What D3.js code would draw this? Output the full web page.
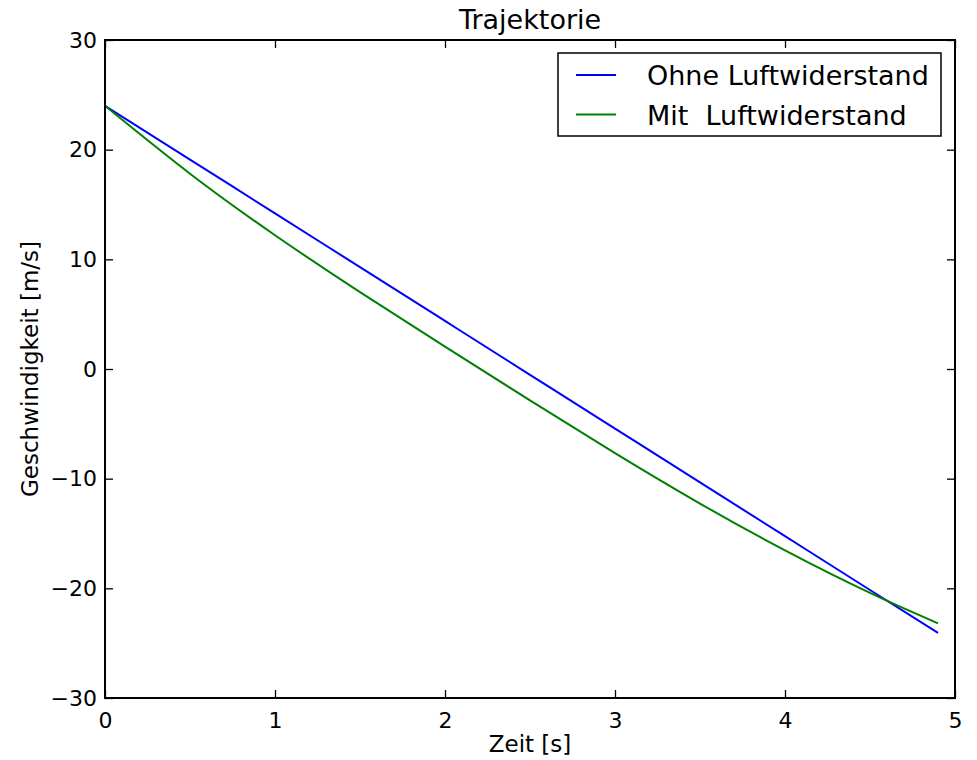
<!DOCTYPE html>
<html>
<head>
<meta charset="utf-8">
<script src="https://cdn.jsdelivr.net/npm/d3@7"></script>
<style>
  html, body { margin: 0; padding: 0; background: #fff; }
  svg { display: block; font-family: "DejaVu Sans", sans-serif; }
  text { fill: #000; }
</style>
</head>
<body>
<svg id="chart" width="977" height="760"></svg>
<script>
// ---- data ----
const title = "Trajektorie";
const xLabel = "Zeit [s]";
const yLabel = "Geschwindigkeit [m/s]";
const seriesNames = ["Ohne Luftwiderstand", "Mit  Luftwiderstand"];
const timeValues = [0, 0.5, 1.0, 1.5, 2.0, 2.5, 3.0, 3.5, 4.0, 4.5, 4.9];
const ohneValues = [24.0, 19.10, 14.19, 9.29, 4.38, -0.53, -5.43, -10.34, -15.24, -20.15, -24.07];
const mitValues  = [24.0, 17.81, 12.20, 7.01, 2.04, -2.86, -7.67, -12.27, -16.54, -20.42, -23.19];
const xTicks = [0, 1, 2, 3, 4, 5];
const yTicks = [-30, -20, -10, 0, 10, 20, 30];
const xDomain = [0, 5];
const yDomain = [-30, 30];
const colors = ["#0000ff", "#008000"];

// ---- layout ----
const svg = d3.select("#chart");
const L = 105, R = 955, T = 40, B = 698;
const x = d3.scaleLinear().domain(xDomain).range([L, R]);
const y = d3.scaleLinear().domain(yDomain).range([B, T]);
const tickLen = 8;
const tickFont = 22;

const fmt = d => d < 0 ? "\u2212" + Math.abs(d) : String(d);

// lines
const series = [ohneValues, mitValues];
const line = d3.line().x((d, i) => x(timeValues[i])).y(d => y(d)).curve(d3.curveNatural);
svg.append("clipPath").attr("id", "clip").append("rect")
  .attr("x", L).attr("y", T).attr("width", R - L).attr("height", B - T);
series.forEach((vals, k) => {
  svg.append("path")
    .datum(vals)
    .attr("d", line)
    .attr("fill", "none")
    .attr("stroke", colors[k])
    .attr("stroke-width", 2)
    .attr("clip-path", "url(#clip)");
});

// axes: bottom, left with inward ticks; top and right mirror ticks
const axBottom = d3.axisBottom(x).tickValues(xTicks).tickSizeInner(-tickLen).tickSizeOuter(0).tickPadding(14).tickFormat(fmt);
const axTop = d3.axisTop(x).tickValues(xTicks).tickSizeInner(-tickLen).tickSizeOuter(0).tickFormat("");
const axLeft = d3.axisLeft(y).tickValues(yTicks).tickSizeInner(-tickLen).tickSizeOuter(0).tickPadding(8).tickFormat(fmt);
const axRight = d3.axisRight(y).tickValues(yTicks).tickSizeInner(-tickLen).tickSizeOuter(0).tickFormat("");

function styleAxis(g) {
  g.select(".domain").remove();
  g.selectAll(".tick line").attr("stroke", "#000").attr("stroke-width", 1.3);
  g.selectAll(".tick text").attr("font-size", tickFont).attr("font-family", "DejaVu Sans").attr("fill", "#000");
}
svg.append("g").attr("transform", `translate(0,${B})`).call(axBottom).call(styleAxis);
svg.append("g").attr("transform", `translate(0,${T})`).call(axTop).call(styleAxis);
svg.append("g").attr("transform", `translate(${L},0)`).call(axLeft).call(styleAxis);
svg.append("g").attr("transform", `translate(${R},0)`).call(axRight).call(styleAxis);

// frame
svg.append("rect").attr("x", L).attr("y", T).attr("width", R - L).attr("height", B - T)
  .attr("fill", "none").attr("stroke", "#000").attr("stroke-width", 2);

// title & labels
svg.append("text").attr("x", (L + R) / 2).attr("y", 29).attr("text-anchor", "middle")
  .attr("font-size", 27).text(title);
svg.append("text").attr("x", (L + R) / 2).attr("y", 752).attr("text-anchor", "middle")
  .attr("font-size", 23).text(xLabel);
svg.append("text").attr("transform", `translate(38,${(T + B) / 2}) rotate(-90)`).attr("text-anchor", "middle")
  .attr("font-size", 23).text(yLabel);

// legend
const lg = svg.append("g");
lg.append("rect").attr("x", 558).attr("y", 53).attr("width", 383).attr("height", 83)
  .attr("fill", "#fff").attr("stroke", "#000").attr("stroke-width", 1.5);
seriesNames.forEach((name, k) => {
  const cy = 75 + k * 39.5;
  lg.append("line").attr("x1", 576).attr("x2", 616).attr("y1", cy).attr("y2", cy)
    .attr("stroke", colors[k]).attr("stroke-width", 2);
  lg.append("text").attr("x", 647).attr("y", cy + 10).attr("font-size", 27)
    .attr("xml:space", "preserve").style("white-space", "pre").text(name);
});
</script>
</body>
</html>
